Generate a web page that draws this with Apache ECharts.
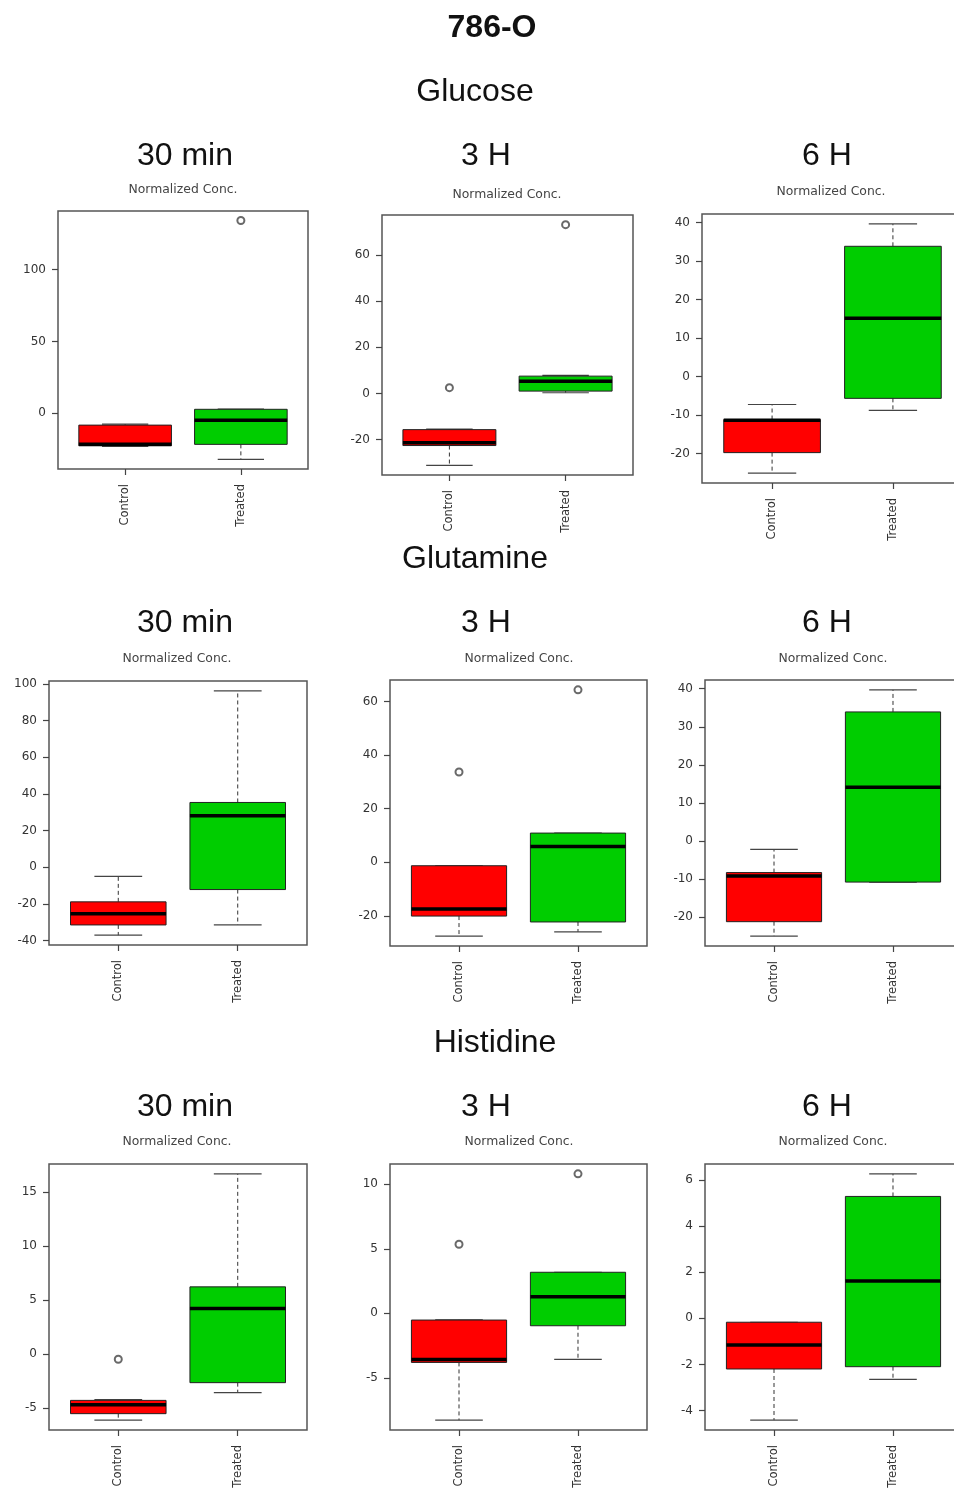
<!DOCTYPE html>
<html><head><meta charset="utf-8">
<script src="https://cdn.jsdelivr.net/npm/echarts@6/dist/echarts.min.js"></script>
<style>html,body{margin:0;padding:0;background:#fff;overflow:hidden}#c{width:980px;height:1492px}</style>
</head><body><div id="c"></div>
<script>
// ---------------- DATA ----------------
const chartTitle = '786-O';
const metabolites = ['Glucose', 'Glutamine', 'Histidine'];
const timepoints = ['30 min', '3 H', '6 H'];
const groups = ['Control', 'Treated'];
const yLabel = 'Normalized Conc.';

// box stats per timepoint: [min, Q1, median, Q3, max]
const glucoseControl = [[-23, -22.6, -21.5, -8.2, -7.5], [-31.2, -22.6, -21.4, -15.7, -15.5], [-25.1, -19.8, -11.4, -11.2, -7.3]];
const glucoseTreated = [[-32.1, -21.6, -4.9, 2.8, 3], [0.3, 1.0, 5.3, 7.5, 7.8], [-8.8, -5.7, 15.1, 33.8, 39.6]];
const glucoseOutliers = [[[2, 134.2]], [[1, 2.5], [2, 73.2]], []];

const glutamineControl = [[-37.0, -31.4, -25.3, -18.8, -4.9], [-27.6, -20.1, -17.5, -1.3, -1.3], [-25.0, -21.2, -9.2, -8.3, -2.2]];
const glutamineTreated = [[-31.4, -12.1, 28.2, 35.4, 96.3], [-26.0, -22.3, 5.9, 10.9, 10.9], [-10.8, -10.8, 14.1, 33.9, 39.7]];
const glutamineOutliers = [[], [[1, 33.7], [2, 64.4]], []];

const histidineControl = [[-6.1, -5.5, -4.67, -4.27, -4.2], [-8.27, -3.8, -3.57, -0.52, -0.5], [-4.42, -2.2, -1.16, -0.17, -0.17]];
const histidineTreated = [[-3.55, -2.63, 4.24, 6.24, 16.7], [-3.57, -0.96, 1.29, 3.18, 3.18], [-2.65, -2.1, 1.62, 5.29, 6.27]];
const histidineOutliers = [[[1, -0.46]], [[1, 5.35], [2, 10.8]], []];

// y tick labels per panel
const glucoseTicks = [[0, 50, 100], [-20, 0, 20, 40, 60], [-20, -10, 0, 10, 20, 30, 40]];
const glutamineTicks = [[-40, -20, 0, 20, 40, 60, 80, 100], [-20, 0, 20, 40, 60], [-20, -10, 0, 10, 20, 30, 40]];
const histidineTicks = [[-5, 0, 5, 10, 15], [-5, 0, 5, 10], [-4, -2, 0, 2, 4, 6]];

// ---------------- LAYOUT ----------------
const controlSets = [glucoseControl, glutamineControl, histidineControl];
const treatedSets = [glucoseTreated, glutamineTreated, histidineTreated];
const outlierSets = [glucoseOutliers, glutamineOutliers, histidineOutliers];
const tickSets = [glucoseTicks, glutamineTicks, histidineTicks];

const gridRects = [
  [[58, 211, 250, 258], [382, 215, 251, 260], [702, 214, 261, 269]],
  [[49, 681, 258, 264], [390, 680, 257, 266], [705, 680, 257, 266]],
  [[49, 1164, 258, 266], [390, 1164, 257, 266], [705, 1164, 257, 266]]
];
const sectionPos = [[475, 92], [475, 559], [495, 1043]];
const subTitleY = [156, 623, 1107];
const subTitleX = [185, 486, 827];
const ylabPos = [[[183, 190], [507, 195], [831, 192]], [[177, 659], [519, 659], [833, 659]], [[177, 1142], [519, 1142], [833, 1142]]];
const boxColors = ['#ff0000', '#00cd00'];

function renderBox(params, api) {
  const x = api.value(0);
  const mn = api.value(1), q1 = api.value(2), md = api.value(3), q3 = api.value(4), mx = api.value(5);
  const xl = api.coord([x - 0.4, q1])[0], xr = api.coord([x + 0.4, q1])[0];
  const xc = api.coord([x, q1])[0];
  const cl = api.coord([x - 0.2, q1])[0], cr = api.coord([x + 0.2, q1])[0];
  const yMin = api.coord([x, mn])[1], yQ1 = api.coord([x, q1])[1], yMd = api.coord([x, md])[1];
  const yQ3 = api.coord([x, q3])[1], yMax = api.coord([x, mx])[1];
  const dash = { stroke: '#333', lineWidth: 1, lineDash: [4, 3] };
  const solid = { stroke: '#444', lineWidth: 1.2 };
  return {
    type: 'group', children: [
      { type: 'line', shape: { x1: xc, y1: yQ3, x2: xc, y2: yMax }, style: dash },
      { type: 'line', shape: { x1: xc, y1: yQ1, x2: xc, y2: yMin }, style: dash },
      { type: 'line', shape: { x1: cl, y1: yMax, x2: cr, y2: yMax }, style: solid },
      { type: 'line', shape: { x1: cl, y1: yMin, x2: cr, y2: yMin }, style: solid },
      { type: 'rect', shape: { x: xl, y: yQ3, width: xr - xl, height: yQ1 - yQ3 }, style: { fill: boxColors[x - 1], stroke: '#222', lineWidth: 1 } },
      { type: 'line', shape: { x1: xl, y1: yMd, x2: xr, y2: yMd }, style: { stroke: '#000', lineWidth: 3.5 } }
    ]
  };
}

const grid = [], xAxis = [], yAxis = [], series = [], graphic = [];
const font = 'Liberation Sans, Arial, sans-serif';
const smallFont = 'DejaVu Sans, sans-serif';

graphic.push({ type: 'text', x: 492, y: 28, style: { text: chartTitle, font: 'bold 32px ' + font, fill: '#111', textAlign: 'center', textVerticalAlign: 'middle' } });

for (let m = 0; m < 3; m++) {
  graphic.push({ type: 'text', x: sectionPos[m][0], y: sectionPos[m][1], style: { text: metabolites[m], font: '32px ' + font, fill: '#111', textAlign: 'center', textVerticalAlign: 'middle' } });
  for (let t = 0; t < 3; t++) {
    const p = m * 3 + t;
    const r = gridRects[m][t];
    const ctrl = controlSets[m][t], trt = treatedSets[m][t], outs = outlierSets[m][t];
    const all = ctrl.concat(trt, outs.map(o => o[1]));
    const lo = Math.min(...all), hi = Math.max(...all), pad = (hi - lo) * 0.04;
    graphic.push({ type: 'text', x: subTitleX[t], y: subTitleY[m], style: { text: timepoints[t], font: '32px ' + font, fill: '#111', textAlign: 'center', textVerticalAlign: 'middle' } });
    graphic.push({ type: 'text', x: ylabPos[m][t][0], y: ylabPos[m][t][1], style: { text: yLabel, font: '12.4px ' + smallFont, fill: '#444', textAlign: 'center', textVerticalAlign: 'middle' } });
    grid.push({ left: r[0], top: r[1], width: r[2], height: r[3], show: true, borderColor: '#555', borderWidth: 1.5, backgroundColor: 'transparent' });
    xAxis.push({
      type: 'value', gridIndex: p, min: 0.42, max: 2.58, position: 'bottom',
      axisLine: { show: false, onZero: false }, splitLine: { show: false },
      axisTick: { show: true, length: 6, lineStyle: { color: '#444', width: 1.2 }, customValues: [1, 2] },
      axisLabel: { customValues: [1, 2], formatter: v => groups[Math.round(v) - 1], rotate: 90, margin: 15, fontSize: 11.5, fontFamily: smallFont, color: '#333' }
    });
    yAxis.push({
      type: 'value', gridIndex: p, min: lo - pad, max: hi + pad, position: 'left',
      axisLine: { show: false, onZero: false }, splitLine: { show: false },
      axisTick: { show: true, length: 6, lineStyle: { color: '#444', width: 1.2 }, customValues: tickSets[m][t] },
      axisLabel: { customValues: tickSets[m][t], margin: 12, fontSize: 12, fontFamily: smallFont, color: '#333' }
    });
    series.push({
      type: 'custom', xAxisIndex: p, yAxisIndex: p, renderItem: renderBox,
      encode: { x: 0, y: [1, 2, 3, 4, 5] },
      data: [[1].concat(ctrl), [2].concat(trt)]
    });
    if (outs.length) {
      series.push({
        type: 'scatter', xAxisIndex: p, yAxisIndex: p, symbol: 'emptyCircle', symbolSize: 7,
        itemStyle: { color: '#444', borderColor: '#444', borderWidth: 1.3 },
        data: outs
      });
    }
  }
}

const chart = echarts.init(document.getElementById('c'), null, { renderer: 'canvas' });
chart.setOption({ animation: false, backgroundColor: '#fff', grid, xAxis, yAxis, series, graphic });
</script>
</body></html>
